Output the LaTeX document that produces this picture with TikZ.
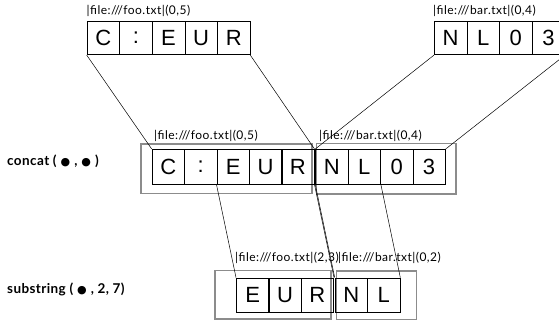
\documentclass[tikz,border=0pt]{standalone}
\usepackage{fontspec}
\setmainfont{Lato}
\newfontfamily\cellfont{Liberation Sans}
\newfontfamily\symfont{DejaVu Sans}
\newcommand{\blt}{{\symfont\fontsize{11}{11}\selectfont ●}}
\begin{document}
\begin{tikzpicture}[x=1pt,y=-1pt,
  cell/.style={draw=black, line width=0.6pt, minimum width=32.6pt, minimum height=#1, inner sep=0pt, anchor=north west, font=\cellfont\fontsize{22}{22}\selectfont},
  cell/.default=33.5pt,
  greybox/.style={draw=black!45, line width=1.4pt},
  conn/.style={draw=black, line width=0.5pt},
  flabel/.style={anchor=west, inner sep=0pt, font=\fontsize{12}{14}\selectfont\addfontfeature{LetterSpace=4}},
  oplabel/.style={anchor=west, inner sep=0pt, font=\bfseries\fontsize{13.5}{15}\selectfont\addfontfeature{LetterSpace=3}}]
\useasboundingbox (0,0) rectangle (559,323);
% grey boxes
\draw[greybox] (141,144) rectangle (312,193.5);
\draw[greybox] (316.5,143.5) rectangle (456,194);
\draw[greybox] (215,270.7) rectangle (331,319);
\draw[greybox] (336.7,271) rectangle (416.7,319.5);
% top row
\foreach \t [count=\i] in {C,:,E,U,R}
  \node[cell] (tf\i) at ({86.7+(\i-1)*32.6},21) {\t};
\foreach \t [count=\i] in {N,L,0,3}
  \node[cell] (tb\i) at ({434+(\i-1)*32.6},21) {\t};
% middle row
\foreach \t [count=\i] in {C,:,E,U,R}
  \node[cell=35pt] (mf\i) at ({151.7+(\i-1)*32.4},149) {\t};
\foreach \t [count=\i] in {N,L,0,3}
  \node[cell=35pt] (mb\i) at ({315.3+(\i-1)*32.4},149) {\t};
% bottom row
\foreach \t [count=\i] in {E,U,R}
  \node[cell=34pt] (bf\i) at ({236+(\i-1)*32.4},277.5) {\t};
\foreach \t [count=\i] in {N,L}
  \node[cell=34pt] (bb\i) at ({334.7+(\i-1)*32.4},277.5) {\t};
% labels
\node[flabel] (l1) at (86.5,11) {|file:///foo.txt|(0,5)};
\node[flabel] (l2) at (433,11) {|file:///bar.txt|(0,4)};
\node[flabel] (l3) at (154,136) {|file:///foo.txt|(0,5)};
\node[flabel] (l4) at (319,136) {|file:///bar.txt|(0,4)};
\node[flabel] (l5) at (235,258) {|file:///foo.txt|(2,3)};
\node[flabel] (l6) at (338,258) {|file:///bar.txt|(0,2)};
\node[oplabel] (op1) at (7,161) {concat (\hspace{4pt}\blt\hspace{4pt},\hspace{4pt}\blt\hspace{4pt})};
\node[oplabel] (op2) at (7,289) {substring (\hspace{4pt}\blt\hspace{4pt}, 2, 7)};
% connectors
\draw[conn] (tf1.south west) -- (mf1.north west);
\draw[conn] (tf5.south east) -- (mf5.north east);
\draw[conn] (tb1.south west) -- (mb1.north west);
\draw[conn] (tb4.south east) -- (mb4.north east);
\draw[conn] (mf3.south west) -- (bf1.north west);
\draw[conn] (mf5.south east) -- (bf3.north east);
\draw[conn] (mb1.south west) -- (bb1.north west);
\draw[conn] (mb2.south east) -- (bb2.north east);
\end{tikzpicture}
\end{document}
